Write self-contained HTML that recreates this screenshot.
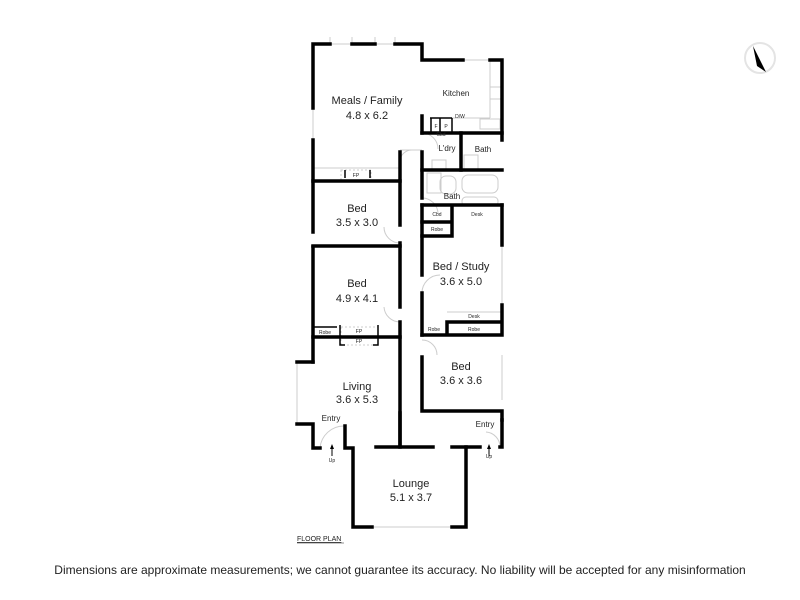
<!DOCTYPE html>
<html><head><meta charset="utf-8"><style>
html,body{margin:0;padding:0;background:#fff;}
svg{display:block;}
text{font-family:"Liberation Sans",sans-serif;fill:#222;}
</style></head><body>
<svg width="800" height="600" viewBox="0 0 800 600" xmlns="http://www.w3.org/2000/svg">
<rect width="800" height="600" fill="#fff"/>
<!-- light fixtures / windows -->
<g stroke="#ccc" stroke-width="1" fill="none">
<line x1="330" y1="44" x2="352" y2="44"/><line x1="375" y1="44" x2="395" y2="44"/>
<line x1="330" y1="37" x2="330" y2="44"/><line x1="352" y1="37" x2="352" y2="44"/><line x1="375" y1="37" x2="375" y2="44"/><line x1="395" y1="37" x2="395" y2="44"/>
<line x1="463" y1="60" x2="490" y2="60"/>
<line x1="313" y1="108" x2="313" y2="140"/>
<line x1="313" y1="168" x2="400" y2="168"/>
<line x1="490" y1="60" x2="490" y2="118"/><line x1="430" y1="118" x2="490" y2="118"/>
<rect x="490" y="87" width="12" height="12"/>
<rect x="480" y="119" width="20" height="10"/>
<rect x="432" y="160" width="14" height="9"/>
<rect x="440" y="176" width="16" height="18" rx="6"/>
<rect x="462" y="175" width="36" height="18" rx="6"/>
<rect x="462" y="197" width="36" height="9" rx="4"/>
<rect x="427" y="173" width="14" height="20"/>
<rect x="464" y="155" width="14" height="14"/>
<line x1="502" y1="245" x2="502" y2="305"/>
<line x1="447" y1="312" x2="502" y2="312"/>
<line x1="297" y1="362" x2="297" y2="424"/>
<line x1="502" y1="355" x2="502" y2="400"/>
<line x1="372" y1="527" x2="452" y2="527"/>
<line x1="400" y1="150" x2="422" y2="150"/>
<rect x="341" y="327" width="37" height="18" stroke-dasharray="2,2"/>
<rect x="341" y="170" width="30" height="11" stroke-dasharray="2,2"/>
<path d="M400 243 A16 16 0 0 1 384 227" /><path d="M400 322 A16 16 0 0 1 384 307"/>
<path d="M422 293 A18 18 0 0 1 440 275"/><path d="M422 340 A15 15 0 0 1 437 355"/>
<path d="M320 448 A24 24 0 0 1 344 426"/><path d="M500 447 A15 15 0 0 0 486 432"/>
<path d="M422 133 A16 16 0 0 1 438 149"/>
<path d="M422 198 A16 16 0 0 1 438 214"/>
<path d="M400 160 A12 12 0 0 1 412 150"/>
<circle cx="760" cy="58" r="15" stroke="#e4e4e4" stroke-width="2"/>
</g>
<!-- walls -->
<g stroke="#000" stroke-width="3.5" fill="none" stroke-linecap="square">
<path d="M313 108 V44 H330 M352 44 H375 M395 44 H422 V60 H463 M490 60 H502 V140"/>
<path d="M313 140 V232 M313 247 V362"/>
<path d="M422 116 V133 M422 152 V168 M422 170 V198 M422 205 V275 M422 293 V335 M422 357 V411 H502 V420"/>
<path d="M422 133 H502"/>
<line x1="461" y1="133" x2="461" y2="170"/>
<path d="M422 170 H502"/>
<path d="M400 152 V181 H313"/>
<path d="M400 181 V225 M400 243 V307 M400 322 V447"/>
<path d="M313 246 H400"/>
<path d="M313 337 H400"/>
<path d="M422 205 H502 M452 205 V222 M422 222 H452 V236 H422"/>
<path d="M502 205 V245 M502 305 V335 M422 335 H502 M447 322 H502 M447 322 V335"/>
<path d="M297 362 H313 M297 424 H313 V448 H320 M345 426 V448 H353 V527 H372 M452 527 H466 V447 H480"/>
<path d="M452 447 H466"/>
<path d="M376 447 H433 M400 413 V447"/>
<path d="M502 420 V447 H500"/>
</g>
<g stroke="#000" stroke-width="1.5" fill="none">
<path d="M340 325 V345 H345 M378 325 V345 H373"/>
<path d="M345 170 V178 M370 170 V178"/>
<line x1="313" y1="327" x2="337" y2="327"/>
<line x1="431" y1="118" x2="431" y2="133"/><line x1="440" y1="118" x2="440" y2="133"/><line x1="430" y1="118" x2="452" y2="118"/><line x1="452" y1="118" x2="452" y2="133"/>
</g>
<g stroke="#000" stroke-width="1"><line x1="332" y1="448" x2="332" y2="456"/><line x1="489" y1="448" x2="489" y2="456"/></g>
<polygon points="332,444 330,449 334,449" fill="#000"/><polygon points="489,444 487,449 491,449" fill="#000"/>
<polygon points="753,46 766,72 757,66" fill="#000"/>
<g font-size="11" text-anchor="middle">
<text x="367" y="104">Meals / Family</text><text x="367" y="119">4.8 x 6.2</text>
<text x="357" y="212">Bed</text><text x="357" y="226">3.5 x 3.0</text>
<text x="357" y="287">Bed</text><text x="357" y="302">4.9 x 4.1</text>
<text x="461" y="270">Bed / Study</text><text x="461" y="285">3.6 x 5.0</text>
<text x="461" y="370">Bed</text><text x="461" y="384">3.6 x 3.6</text>
<text x="357" y="390">Living</text><text x="357" y="403">3.6 x 5.3</text>
<text x="411" y="487">Lounge</text><text x="411" y="501">5.1 x 3.7</text>
</g>
<g font-size="8" text-anchor="middle">
<text x="456" y="96">Kitchen</text><text x="447" y="151">L'dry</text><text x="483" y="152">Bath</text>
<text x="452" y="199">Bath</text><text x="331" y="421">Entry</text><text x="485" y="427">Entry</text>
</g>
<g font-size="5" text-anchor="middle">
<text x="460" y="118">D/W</text><text x="436" y="128">F</text><text x="446" y="128">P</text><text x="441" y="136">Cbd</text>
<text x="437" y="216">Cbd</text><text x="477" y="216">Desk</text><text x="437" y="231">Robe</text>
<text x="474" y="318">Desk</text><text x="434" y="331">Robe</text><text x="474" y="331">Robe</text><text x="325" y="334">Robe</text>
<text x="359" y="333">FP</text><text x="359" y="343">FP</text><text x="356" y="177">FP</text>
<text x="332" y="462">Up</text><text x="489" y="458">Up</text>
</g>
<text x="297" y="541" font-size="7" text-decoration="underline">FLOOR PLAN</text>
<line x1="297" y1="543" x2="344" y2="543" stroke="#222" stroke-width="0.6"/>
<text x="400" y="574" font-size="12" text-anchor="middle" fill="#000">Dimensions are approximate measurements; we cannot guarantee its accuracy. No liability will be accepted for any misinformation</text>
</svg>
</body></html>
